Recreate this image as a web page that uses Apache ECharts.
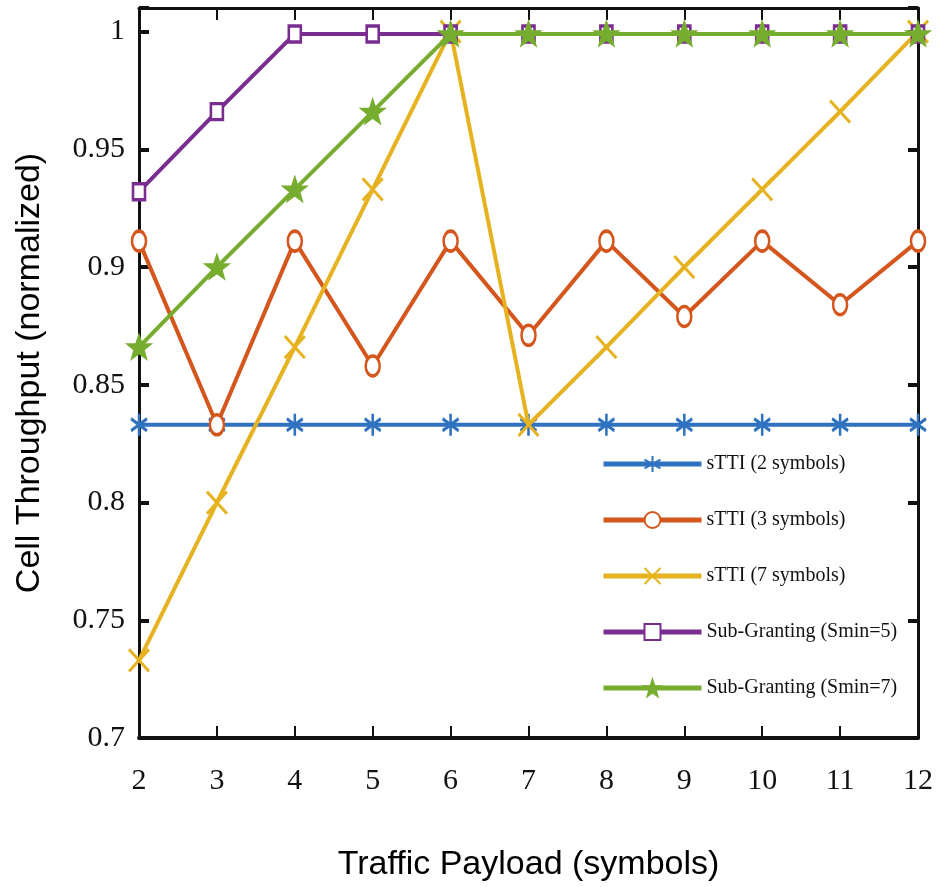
<!DOCTYPE html>
<html>
<head>
<meta charset="utf-8">
<script src="https://cdn.jsdelivr.net/npm/echarts@6/dist/echarts.min.js"></script>
<style>html,body{margin:0;padding:0;background:#fff;}#c{width:938px;height:887px;}</style>
</head>
<body>
<div id="c"></div>
<script>
const payload = [2, 3, 4, 5, 6, 7, 8, 9, 10, 11, 12];
const seriesNames = ['sTTI (2 symbols)', 'sTTI (3 symbols)', 'sTTI (7 symbols)', 'Sub-Granting (Smin=5)', 'Sub-Granting (Smin=7)'];
const stti2 = [0.833, 0.833, 0.833, 0.833, 0.833, 0.833, 0.833, 0.833, 0.833, 0.833, 0.833];
const stti3 = [0.911, 0.833, 0.911, 0.858, 0.911, 0.871, 0.911, 0.879, 0.911, 0.884, 0.911];
const stti7 = [0.733, 0.800, 0.866, 0.933, 1.000, 0.833, 0.866, 0.900, 0.933, 0.966, 1.000];
const sub5 = [0.932, 0.966, 0.999, 0.999, 0.999, 0.999, 0.999, 0.999, 0.999, 0.999, 0.999];
const sub7 = [0.866, 0.900, 0.933, 0.966, 0.999, 0.999, 0.999, 0.999, 0.999, 0.999, 0.999];
const colors = ['#2f72c0', '#d4561c', '#e6b220', '#7a2d90', '#77ad2f'];

const symbols = [
  'path://M0,-11L0,11M-8,-6L8,6M-8,6L8,-6',
  'path://M0,-10A7,10,0,1,1,0,10A7,10,0,1,1,0,-10Z',
  'path://M-10,-11L10,11M-10,11L10,-11',
  'rect',
  'path://M0,-10L2.35,-3.24L9.51,-3.09L3.8,1.24L5.88,8.09L0,4L-5.88,8.09L-3.8,1.24L-9.51,-3.09L-2.35,-3.24Z'
];
const sizes = [[16, 22], [14, 20], [20, 22], [12, 16], [20, 20]];
const fills = [colors[0], '#fff', colors[2], '#fff', colors[4]];
const allData = [stti2, stti3, stti7, sub5, sub7];

const series = allData.map((vals, i) => ({
  name: seriesNames[i],
  type: 'line',
  data: payload.map((x, j) => [x, vals[j]]),
  symbol: symbols[i],
  symbolSize: sizes[i],
  showAllSymbol: true,
  lineStyle: { color: colors[i], width: 4 },
  itemStyle: { color: fills[i], borderColor: colors[i], borderWidth: 3 },
  z: 2 + i
}));

const chart = echarts.init(document.getElementById('c'));
const tickFmt = v => {
  const k = Math.round(v / 0.05);
  if (Math.abs(v - k * 0.05) > 1e-6) return '';
  return String(+v.toFixed(2));
};
chart.setOption({
  backgroundColor: '#fff',
  animation: false,
  grid: { left: 139, right: 20, top: 8, bottom: 147 },
  legend: {
    orient: 'vertical',
    left: 596,
    top: 449,
    itemWidth: 98,
    itemHeight: 20,
    itemGap: 36,
    backgroundColor: '#fff',
    lineStyle: { width: 5 },
    textStyle: { fontFamily: 'Liberation Serif', fontSize: 20, color: '#111' },
    data: seriesNames
  },
  xAxis: [{
    type: 'value', min: 2, max: 12, interval: 1,
    name: 'Traffic Payload (symbols)', nameLocation: 'middle', nameGap: 110,
    nameTextStyle: { fontFamily: 'Liberation Sans', fontSize: 34, color: '#000' },
    axisLine: { show: true, lineStyle: { color: '#111', width: 4 } },
    axisTick: { show: true, inside: true, length: 12, lineStyle: { color: '#111', width: 2 } },
    axisLabel: { fontFamily: 'Liberation Serif', fontSize: 30, color: '#111', margin: 28 },
    splitLine: { show: false }
  }, {
    type: 'value', min: 2, max: 12, interval: 1, position: 'top',
    axisLine: { show: true, lineStyle: { color: '#111', width: 3 } },
    axisTick: { show: true, inside: true, length: 12, lineStyle: { color: '#111', width: 2 } },
    axisLabel: { show: false },
    splitLine: { show: false }
  }],
  yAxis: [{
    type: 'value', min: 0.7, max: 1.01, interval: 0.05,
    name: 'Cell Throughput (normalized)', nameLocation: 'middle', nameGap: 92,
    nameTextStyle: { fontFamily: 'Liberation Sans', fontSize: 34, color: '#000' },
    axisLine: { show: true, lineStyle: { color: '#111', width: 3 } },
    axisTick: { show: true, inside: true, length: 10, lineStyle: { color: '#111', width: 4 } },
    axisLabel: { fontFamily: 'Liberation Serif', fontSize: 30, color: '#111', margin: 14, formatter: tickFmt },
    splitLine: { show: false }
  }, {
    type: 'value', min: 0.7, max: 1.01, interval: 0.05, position: 'right',
    axisLine: { show: true, lineStyle: { color: '#111', width: 3 } },
    axisTick: { show: true, inside: true, length: 10, lineStyle: { color: '#111', width: 4 } },
    axisLabel: { show: false },
    splitLine: { show: false }
  }],
  series: series
});
</script>
</body>
</html>
